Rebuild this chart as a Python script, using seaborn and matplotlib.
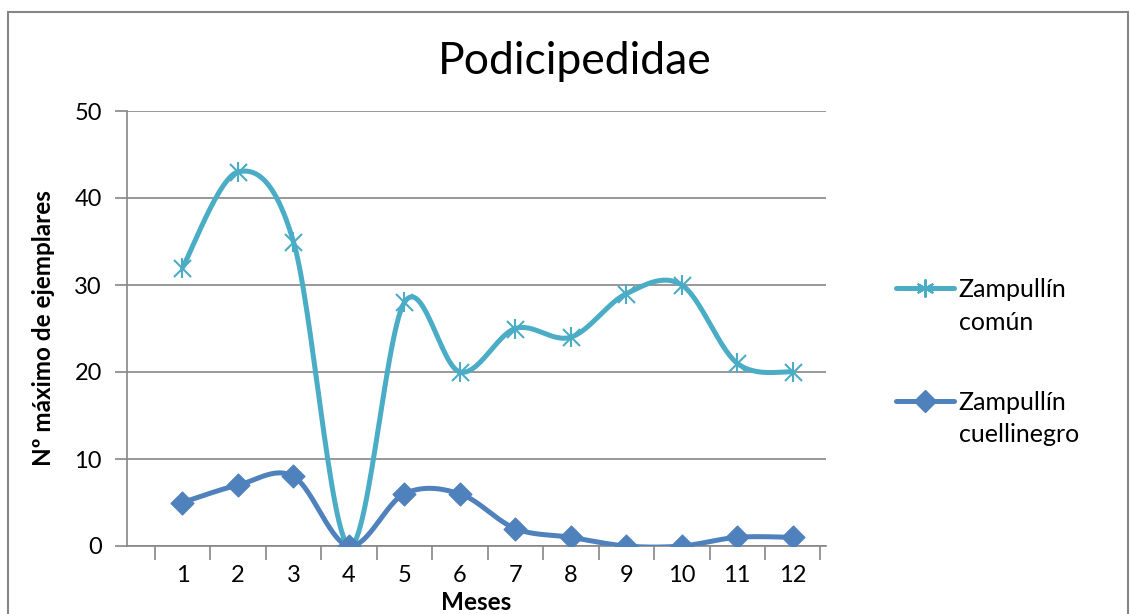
import numpy as np
import pandas as pd
import matplotlib
matplotlib.use("Agg")
import matplotlib.pyplot as plt
import seaborn as sns
from matplotlib.lines import Line2D
from matplotlib.patches import Rectangle
from matplotlib.legend_handler import HandlerLine2D

months = list(range(1, 13))
comun = [32, 43, 35, 0, 28, 20, 25, 24, 29, 30, 21, 20]
cuellinegro = [5, 7, 8, 0, 6, 6, 2, 1, 0, 0, 1, 1]
series_names = ["Zampullín\ncomún", "Zampullín\ncuellinegro"]
colors = ["#4BACC6", "#4F81BD"]
title = "Podicipedidae"
xlabel = "Meses"
ylabel = "Nº máximo de ejemplares"


def smooth(xs, ys, n=30):
    """Excel-like Catmull-Rom smoothing through the data points."""
    P = np.column_stack([xs, ys]).astype(float)
    out = []
    for i in range(len(P) - 1):
        p0 = P[i - 1] if i > 0 else P[i]
        p1, p2 = P[i], P[i + 1]
        p3 = P[i + 2] if i + 2 < len(P) else P[i + 1]
        c1 = p1 + (p2 - p0) / 6.0
        c2 = p2 - (p3 - p1) / 6.0
        t = np.linspace(0, 1, n)[:, None]
        seg = ((1 - t) ** 3) * p1 + 3 * ((1 - t) ** 2) * t * c1 + 3 * (1 - t) * t ** 2 * c2 + t ** 3 * p2
        out.append(seg if i == 0 else seg[1:])
    S = np.vstack(out)
    return S[:, 0], S[:, 1]


class TopHandler(HandlerLine2D):
    def __init__(self, shift, **kw):
        super().__init__(**kw)
        self.shift = shift

    def create_artists(self, legend, orig_handle, xdescent, ydescent, width, height, fontsize, trans):
        arts = super().create_artists(legend, orig_handle, xdescent, ydescent, width, height, fontsize, trans)
        for a in arts:
            a.set_ydata(np.asarray(a.get_ydata(), float) + self.shift)
        return arts


sns.set_theme(style="white")
plt.rcParams["font.family"] = ["Lato", "DejaVu Sans"]

fig = plt.figure(figsize=(11.3, 6.14), dpi=100)
W, H = 1130, 614
ax = fig.add_axes([127 / W, (H - 546) / H, (826 - 127) / W, (546 - 111) / H])

for name, vals, col in zip(series_names, [comun, cuellinegro], colors):
    sx, sy = smooth(months, vals)
    df = pd.DataFrame({"x": sx, "y": sy})
    sns.lineplot(data=df, x="x", y="y", ax=ax, color=col, lw=3.6, sort=False,
                 estimator=None, solid_capstyle="round", zorder=3)

dfa = pd.DataFrame({"x": months, "y": comun})
sns.scatterplot(data=dfa, x="x", y="y", ax=ax, marker="x", s=150, color=colors[0],
                linewidth=1.5, zorder=4)
sns.scatterplot(data=dfa, x="x", y="y", ax=ax, marker="|", s=200, color=colors[0],
                linewidth=1.5, zorder=4)
dfb = pd.DataFrame({"x": months, "y": cuellinegro})
sns.scatterplot(data=dfb, x="x", y="y", ax=ax, marker="D", s=135, color=colors[1],
                edgecolor=colors[1], zorder=4)

ax.set_xlim(0, 12.6)
ax.set_ylim(0, 50)
ax.set_yticks([0, 10, 20, 30, 40, 50])
ax.set_xticks(months)
ax.set_xticks(np.arange(0.5, 13, 1), minor=True)
ax.tick_params(axis="x", which="major", length=0, labelsize=17, pad=14, colors="black")
ax.tick_params(axis="x", which="minor", length=10, width=1.2, color="#868686", direction="out")
ax.tick_params(axis="y", which="major", length=9, width=1.2, color="#868686", direction="out",
               labelsize=17, pad=9, labelcolor="black")
ax.xaxis.set_tick_params(bottom=True, which="both")
ax.yaxis.set_tick_params(left=True)
ax.grid(axis="y", color="#868686", lw=1.2)
ax.set_axisbelow(True)
for s in ["top", "right"]:
    ax.spines[s].set_visible(False)
for s in ["left", "bottom"]:
    ax.spines[s].set_color("#868686")
    ax.spines[s].set_linewidth(1.2)

ax.set_xlabel(xlabel, fontsize=17.5, fontweight="bold", labelpad=3, color="black")
ax.set_ylabel(ylabel, fontsize=17.5, fontweight="bold", labelpad=14, color="black")
fig.text(575 / W, 1 - 62 / H, title, fontsize=32, ha="center", va="center", color="black")

handles = [
    Line2D([], [], color=colors[0], lw=3.6, marker=(6, 2, 0), markersize=13,
           markeredgewidth=1.5, solid_capstyle="round"),
    Line2D([], [], color=colors[1], lw=3.6, marker="D", markersize=11,
           solid_capstyle="round"),
]
leg = fig.legend(handles, series_names, loc="upper left",
                 bbox_to_anchor=(896 / W, 1 - 278 / H), frameon=False,
                 borderpad=0, borderaxespad=0,
                 fontsize=18, handlelength=2.3, labelspacing=2.3, handletextpad=0.2,
                 handler_map={Line2D: TopHandler(shift=13)})
for t in leg.get_texts():
    t.set_linespacing(1.5)
    t.set_color("black")

fig.add_artist(Rectangle((8 / W, -0.05), (1128 - 8) / W, 1 - 12 / H + 0.05,
                         transform=fig.transFigure, fill=False, edgecolor="#868686", lw=1.5))

fig.savefig("out.png", dpi=100)
